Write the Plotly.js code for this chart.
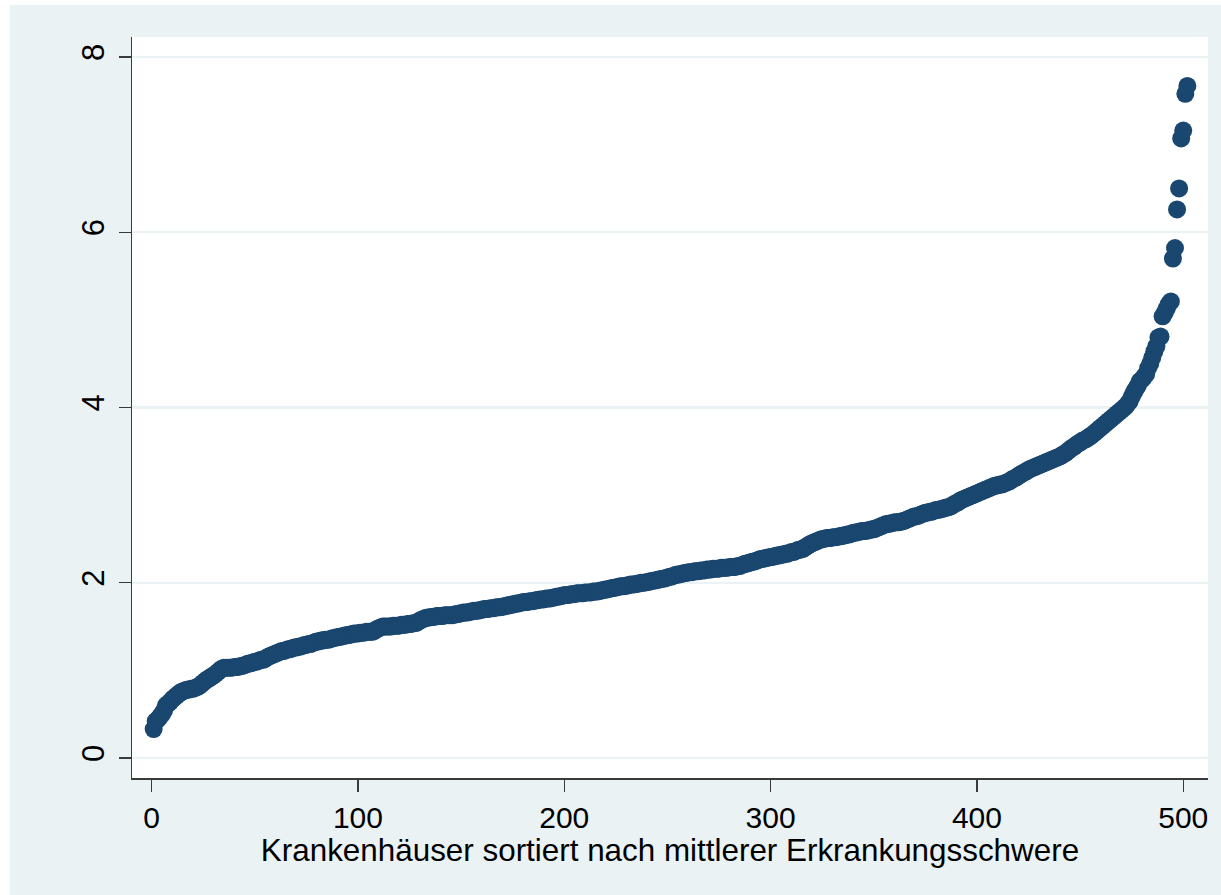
<!DOCTYPE html>
<html>
<head>
<meta charset="utf-8">
<script src="https://cdn.plot.ly/plotly-3.0.1.min.js"></script>
<style>
  html, body { margin: 0; padding: 0; background: #ffffff; }
  #chart { position: absolute; left: 10px; top: 5px; width: 1211px; height: 890px; }
</style>
</head>
<body>
<div id="chart"></div>
<script>
// Mean severity per hospital, sorted (rank 1..502)
const severity = [
  0.33,0.42,0.44,0.47,0.50,0.54,0.60,0.62,0.64,0.67,
  0.69,0.71,0.73,0.75,0.76,0.77,0.78,0.78,0.79,0.79,
  0.80,0.81,0.82,0.84,0.86,0.88,0.90,0.91,0.93,0.94,
  0.96,0.98,1.00,1.02,1.03,1.03,1.03,1.03,1.03,1.04,
  1.04,1.04,1.05,1.05,1.06,1.07,1.08,1.08,1.09,1.10,
  1.10,1.11,1.12,1.12,1.13,1.15,1.16,1.17,1.18,1.19,
  1.20,1.21,1.22,1.22,1.23,1.24,1.24,1.25,1.26,1.26,
  1.27,1.27,1.28,1.29,1.29,1.30,1.30,1.31,1.32,1.33,
  1.33,1.34,1.34,1.35,1.35,1.35,1.36,1.37,1.37,1.38,
  1.38,1.39,1.39,1.40,1.40,1.41,1.41,1.42,1.42,1.42,
  1.43,1.43,1.43,1.44,1.44,1.44,1.44,1.45,1.47,1.48,
  1.49,1.50,1.50,1.50,1.50,1.50,1.51,1.51,1.51,1.51,
  1.52,1.52,1.52,1.53,1.53,1.53,1.54,1.54,1.55,1.57,
  1.58,1.59,1.60,1.60,1.61,1.61,1.61,1.62,1.62,1.62,
  1.62,1.63,1.63,1.63,1.63,1.63,1.64,1.64,1.65,1.65,
  1.66,1.66,1.66,1.67,1.67,1.68,1.68,1.68,1.69,1.69,
  1.70,1.70,1.70,1.71,1.71,1.71,1.72,1.72,1.72,1.73,
  1.73,1.74,1.74,1.75,1.75,1.76,1.76,1.77,1.77,1.78,
  1.78,1.78,1.79,1.79,1.79,1.80,1.80,1.81,1.81,1.81,
  1.82,1.82,1.82,1.83,1.83,1.84,1.84,1.85,1.85,1.86,
  1.86,1.86,1.87,1.87,1.87,1.88,1.88,1.88,1.88,1.89,
  1.89,1.89,1.89,1.90,1.90,1.90,1.91,1.91,1.92,1.92,
  1.93,1.93,1.94,1.94,1.95,1.95,1.96,1.96,1.96,1.97,
  1.97,1.98,1.98,1.98,1.99,1.99,2.00,2.00,2.00,2.01,
  2.01,2.02,2.02,2.03,2.03,2.04,2.04,2.05,2.05,2.06,
  2.07,2.07,2.08,2.09,2.09,2.10,2.10,2.11,2.11,2.12,
  2.12,2.12,2.13,2.13,2.13,2.14,2.14,2.14,2.15,2.15,
  2.15,2.16,2.16,2.16,2.16,2.17,2.17,2.17,2.17,2.18,
  2.18,2.18,2.18,2.19,2.19,2.20,2.21,2.22,2.22,2.23,
  2.24,2.24,2.25,2.26,2.27,2.27,2.28,2.28,2.29,2.29,
  2.30,2.30,2.31,2.31,2.32,2.32,2.33,2.33,2.34,2.35,
  2.35,2.36,2.37,2.38,2.38,2.39,2.41,2.42,2.44,2.45,
  2.46,2.47,2.48,2.49,2.50,2.50,2.51,2.51,2.51,2.52,
  2.52,2.52,2.53,2.53,2.54,2.54,2.55,2.55,2.56,2.57,
  2.57,2.58,2.58,2.59,2.59,2.59,2.60,2.60,2.61,2.61,
  2.62,2.63,2.64,2.65,2.66,2.67,2.67,2.68,2.68,2.69,
  2.69,2.69,2.70,2.70,2.71,2.72,2.73,2.74,2.75,2.76,
  2.76,2.77,2.78,2.79,2.80,2.80,2.81,2.81,2.82,2.83,
  2.83,2.84,2.84,2.85,2.86,2.86,2.87,2.88,2.90,2.91,
  2.92,2.94,2.95,2.96,2.97,2.98,2.99,3.00,3.01,3.02,
  3.03,3.04,3.05,3.06,3.07,3.08,3.09,3.10,3.11,3.11,
  3.12,3.12,3.13,3.14,3.15,3.16,3.18,3.19,3.20,3.22,
  3.23,3.25,3.26,3.27,3.29,3.30,3.31,3.32,3.33,3.34,
  3.35,3.36,3.37,3.38,3.39,3.40,3.41,3.42,3.43,3.44,
  3.45,3.47,3.48,3.50,3.52,3.54,3.55,3.57,3.59,3.60,
  3.62,3.63,3.64,3.66,3.67,3.69,3.71,3.73,3.75,3.77,
  3.79,3.81,3.83,3.85,3.87,3.89,3.91,3.93,3.95,3.97,
  3.99,4.01,4.04,4.07,4.12,4.17,4.21,4.25,4.30,4.32,
  4.35,4.38,4.45,4.50,4.57,4.64,4.70,4.80,4.81,5.04,
  5.08,5.13,5.18,5.21,5.70,5.82,6.26,6.50,7.07,7.16,
  7.58,7.67
];
const rank = severity.map((_, i) => i + 1);

const xTicks = [0, 100, 200, 300, 400, 500];
const yTicks = [0, 2, 4, 6, 8];
const xTitle = "Krankenhäuser sortiert nach mittlerer Erkrankungsschwere";

const navy = "#1A476F";
const bluishGray = "#EAF2F3";
const axisColor = "#3a3a3a";
const fontFamily = "Liberation Sans, Arial, Helvetica, sans-serif";

const trace = {
  type: "scatter",
  mode: "markers",
  x: rank,
  y: severity,
  marker: { color: navy, size: 18, line: { width: 0 } },
  hoverinfo: "x+y"
};

const layout = {
  width: 1211,
  height: 890,
  paper_bgcolor: bluishGray,
  plot_bgcolor: "#ffffff",
  margin: { l: 122, r: 13, t: 32, b: 117 },
  showlegend: false,
  font: { family: fontFamily, color: "#000000", size: 30 },
  xaxis: {
    range: [-9.5, 512],
    tickmode: "array",
    tickvals: xTicks,
    ticktext: xTicks.map(String),
    ticks: "outside",
    ticklen: 12,
    tickwidth: 1.2,
    tickcolor: axisColor,
    showline: true,
    linecolor: axisColor,
    linewidth: 1.5,
    showgrid: false,
    zeroline: false,
    tickfont: { size: 30, family: fontFamily, color: "#000" },
    title: { text: xTitle, font: { size: 31.4, family: fontFamily, color: "#000" }, standoff: 4 },
    automargin: false
  },
  yaxis: {
    range: [-0.228, 8.228],
    tickmode: "array",
    tickvals: yTicks,
    ticktext: yTicks.map(String),
    ticks: "outside",
    ticklen: 12,
    tickwidth: 1.2,
    tickcolor: axisColor,
    tickangle: -90,
    ticklabelstandoff: 2,
    showline: true,
    linecolor: axisColor,
    linewidth: 1.5,
    showgrid: true,
    gridcolor: bluishGray,
    gridwidth: 2.5,
    zeroline: false,
    tickfont: { size: 31, family: fontFamily, color: "#000" },
    automargin: false
  }
};

Plotly.newPlot("chart", [trace], layout, { displayModeBar: false, staticPlot: true });
</script>
</body>
</html>
